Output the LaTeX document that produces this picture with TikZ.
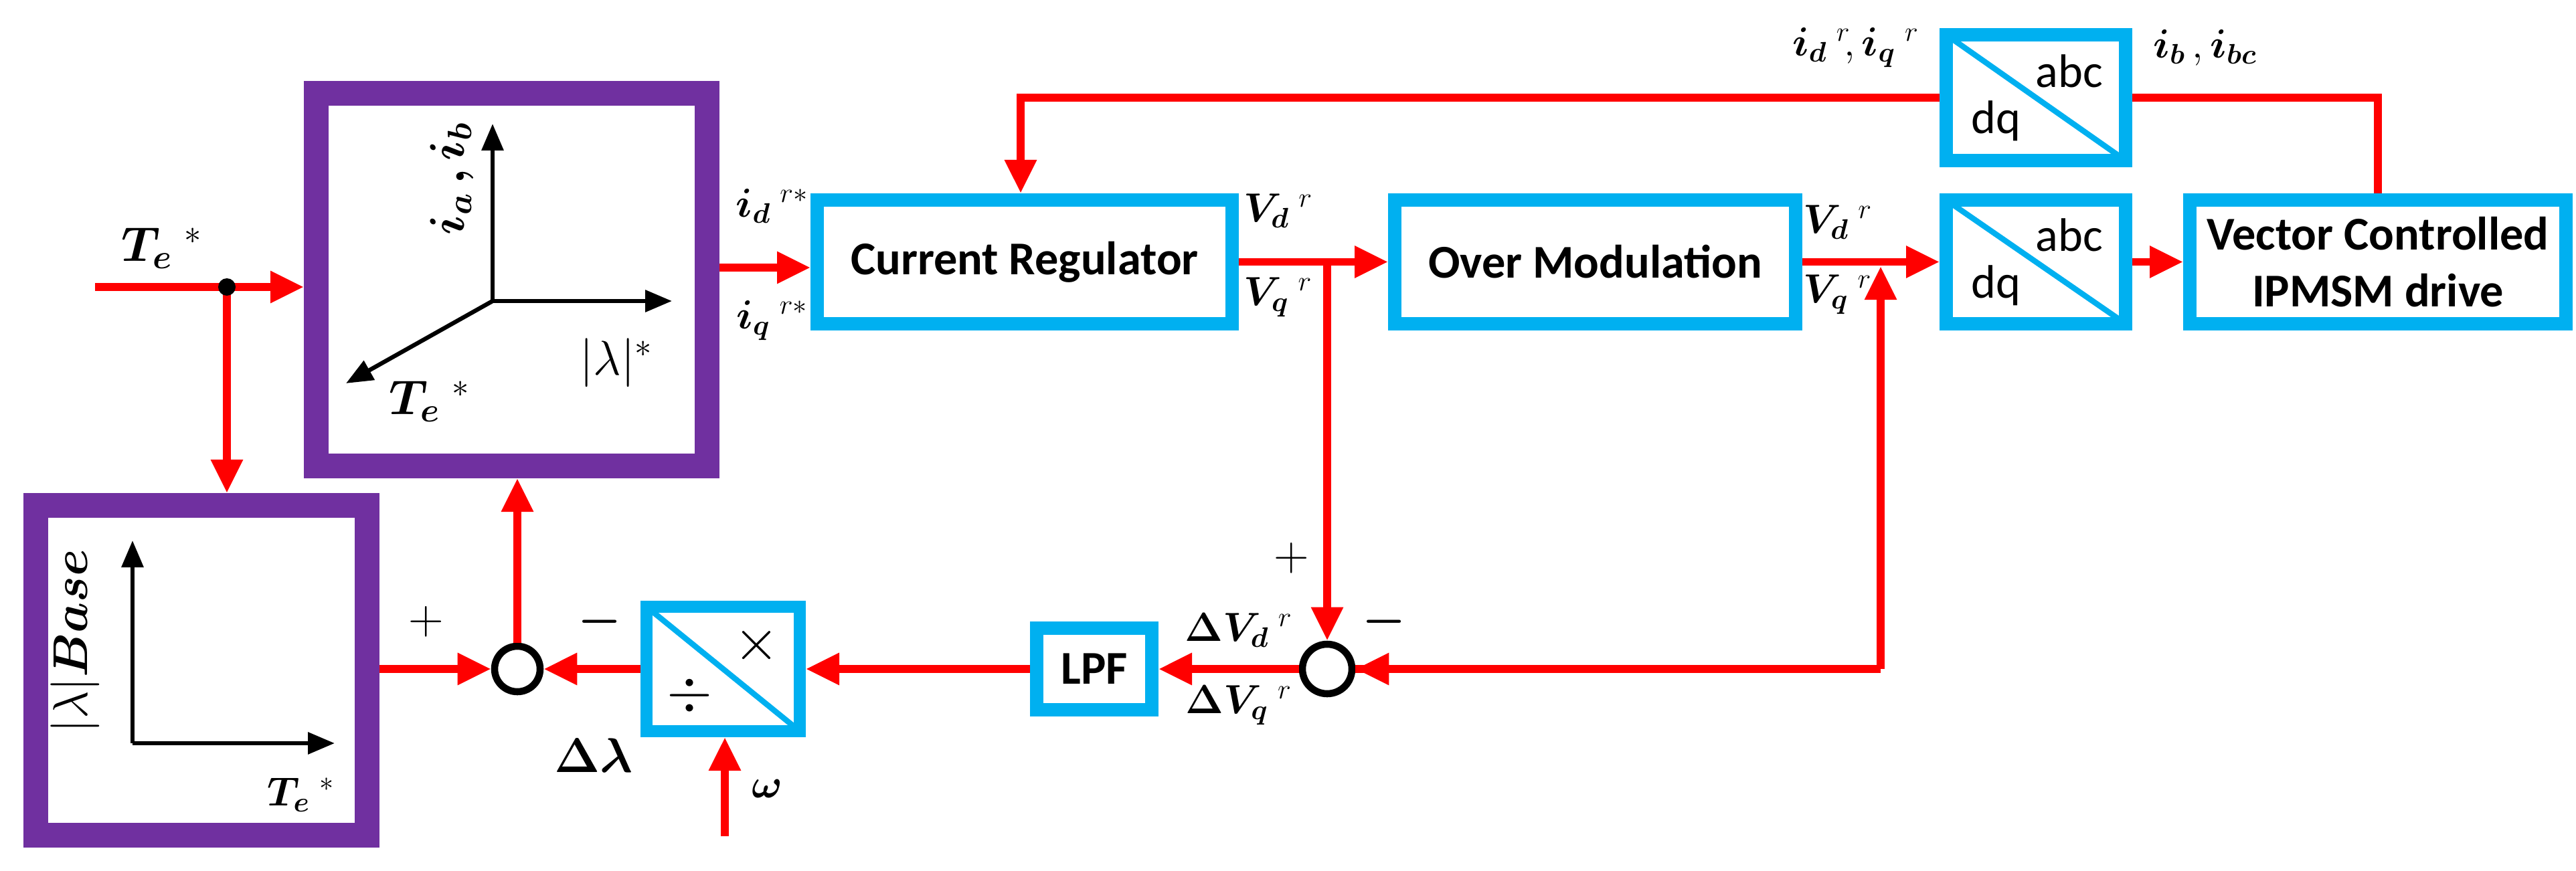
\documentclass[tikz,border=0pt]{standalone}
\usepackage{amsmath}
\usepackage{bm}
\usepackage{fontspec}
\setmainfont{Carlito}
\usetikzlibrary{arrows.meta,positioning}
\definecolor{sigred}{RGB}{255,0,0}
\definecolor{blkblue}{RGB}{0,176,240}
\definecolor{mappurple}{RGB}{112,48,160}
\tikzset{
  sig/.style={draw=sigred, line width=3.4pt,
    -{Triangle[length=0.5cm, width=0.45cm]}},
  wire/.style={draw=sigred, line width=3.4pt},
  axis/.style={draw=black, line width=1.8pt,
    -{Triangle[length=0.4cm, width=0.32cm]}},
  mapbox/.style={draw=mappurple, line width=0.37cm, fill=white},
  block/.style={draw=blkblue, line width=0.2cm, fill=white,
    font=\bfseries\fontsize{20}{24}\selectfont, align=center},
  split/.style={block, path picture={\draw[blkblue, line width=2.4pt]
    (path picture bounding box.north west) --
    (path picture bounding box.south east);}},
  sum/.style={circle, draw=black, line width=3pt, fill=white,
    minimum size=0.68cm, inner sep=0pt},
  lbl/.style={font=\fontsize{17}{20}\selectfont},
  big/.style={font=\fontsize{22}{26}\selectfont}
}
\begin{document}
\begin{tikzpicture}
\useasboundingbox (0,0) rectangle (38.49,13.01);

% mapping blocks
\node (map) [mapbox, minimum width=5.84cm, minimum height=5.57cm]
  at (7.645, 8.83) {};
\node (base) [mapbox, minimum width=4.95cm, minimum height=4.93cm]
  at (3.01, 2.99) {};

% main blocks
\node (cr) [block, minimum width=6.2cm, minimum height=1.85cm]
  at (15.31, 9.095) {Current Regulator};
\node (om) [block, minimum width=5.99cm, minimum height=1.85cm]
  at (23.835, 9.095) {Over Modulation};
\node (dqb) [split, minimum width=2.68cm, minimum height=1.85cm]
  at (30.42, 9.095) {};
\node (vc) [block, minimum width=5.62cm, minimum height=1.85cm]
  at (35.53, 9.095) {Vector Controlled\\IPMSM drive};
\node (dqt) [split, minimum width=2.68cm, minimum height=1.88cm]
  at (30.42, 11.55) {};
\node (lpf) [block, minimum width=1.72cm, minimum height=1.22cm]
  at (16.35, 3.01) {LPF};
\node (dm) [split, line width=0.18cm, minimum width=2.29cm,
  minimum height=1.86cm] at (10.805, 3.01) {};

% texts inside the split blocks
\foreach \b in {dqb, dqt} {
  \path (\b.center)+(0.5, 0.4) node [font=\fontsize{20}{24}\selectfont] {abc};
  \path (\b.center)+(-0.6, -0.35) node [font=\fontsize{20}{24}\selectfont] {dq};
}
\path (dm.center)+(0.5, 0.35) node [font=\fontsize{26}{30}\selectfont] {$\times$};
\path (dm.center)+(-0.5, -0.4) node [font=\fontsize{26}{30}\selectfont] {$\div$};

% summing points
\node (sa) [sum] at (7.73, 3.01) {};
\node (sb) [sum, minimum size=0.74cm] at (19.83, 3.01) {};

% axes in the mapping blocks
\coordinate (mo) at (7.36, 8.51);
\draw [axis] (mo) -- (7.36, 11.16);
\draw [axis] (mo) -- (10.04, 8.51);
\draw [axis] (mo) -- (5.17, 7.28);
\path (6.75, 10.34) node [big, rotate=90] {$\bm{i_a\,,i_b}$};
\path (9.21, 7.59) node [big] {$|\lambda|^{*}$};
\path (6.42, 7.01) node [big] {$\bm{T_e}\ ^{*}$};

\coordinate (bo) at (1.98, 1.90);
\draw [axis] (bo) -- (1.98, 4.93);
\draw [axis] (bo) -- (5.0, 1.90);
\path (1.12, 3.43) node [big, rotate=90] {$|\lambda|\bm{Base}$};
\path (4.5, 1.13) node [lbl] {$\bm{T_e}\ ^{*}$};

% torque reference input
\coordinate (tin) at (1.42, 8.72);
\coordinate (tdot) at (3.39, 8.72);
\draw [wire] (tin) -- (tdot);
\draw [sig] (tdot) -- (map.west |- tdot);
\draw [sig] (tdot) -- (tdot |- base.north);
\fill (tdot) circle (0.13);
\path (2.42, 9.3) node [big] {$\bm{T_e}\ ^{*}$};

% forward path
\draw [sig] (map.east |- 0,9.01) -- (cr.west |- 0,9.01);
\path (11.54, 9.93) node [lbl] {$\bm{i_d}\ ^{r*}$};
\path (11.54, 8.22) node [lbl] {$\bm{i_q}\ ^{r*}$};
\draw [sig] (cr.east) -- (om.west);
\path (19.1, 9.86) node [lbl] {$\bm{V_d}\ ^{r}$};
\path (19.1, 8.57) node [lbl] {$\bm{V_q}\ ^{r}$};
\draw [sig] (om.east) -- (dqb.west);
\path (27.46, 9.69) node [lbl] {$\bm{V_d}\ ^{r}$};
\path (27.46, 8.61) node [lbl] {$\bm{V_q}\ ^{r}$};
\draw [sig] (dqb.east) -- (vc.west);

% current feedback
\coordinate (fb) at (15.25, 11.55);
\draw [sig] (dqt.west) -- (fb) -- (fb |- cr.north);
\draw [wire] (dqt.east) -| (vc.north);
\path (27.73, 12.3) node [lbl] {$\bm{i_d}\ ^{r}\!,\bm{i_q}\ ^{r}$};
\path (32.05, 12.3) node [lbl, anchor=west] {$\bm{i_b}\,,\bm{i_{bc}}$};

% voltage error loop
\coordinate (vbr) at (19.83, 9.095);
\draw [sig] (vbr) -- (sb.north);
\coordinate (vqb) at (28.1, 3.01);
\draw [wire] (vqb) -- (sb.east);
\draw [sig] (sb.east -| 28.1,0) ++(0,0) (vqb) -- (28.1, 9.03);
\draw [sig] (vqb) -- (sb.east);
\path (19.3, 4.67) node [big] {$+$};
\path (20.68, 3.72) node [big] {$\bm{-}$};
\draw [sig] (sb.west) -- (lpf.east);
\path (18.51, 3.59) node [lbl] {$\bm{\Delta V_d}\ ^{r}$};
\path (18.51, 2.47) node [lbl] {$\bm{\Delta V_q}\ ^{r}$};
\draw [sig] (lpf.west) -- (dm.east);
\coordinate (win) at (10.83, 0.51);
\draw [sig] (win) -- (win |- dm.south);
\path (11.46, 1.22) node [lbl] {$\bm{\omega}$};
\path (8.87, 1.72) node [big] {$\bm{\Delta\lambda}$};

% flux correction
\draw [sig] (dm.west) -- (sa.east);
\draw [sig] (base.east |- sa) -- (sa.west);
\draw [sig] (sa.north) -- (map.south -| sa);
\path (6.37, 3.72) node [big] {$+$};
\path (8.96, 3.72) node [big] {$\bm{-}$};
\end{tikzpicture}
\end{document}
